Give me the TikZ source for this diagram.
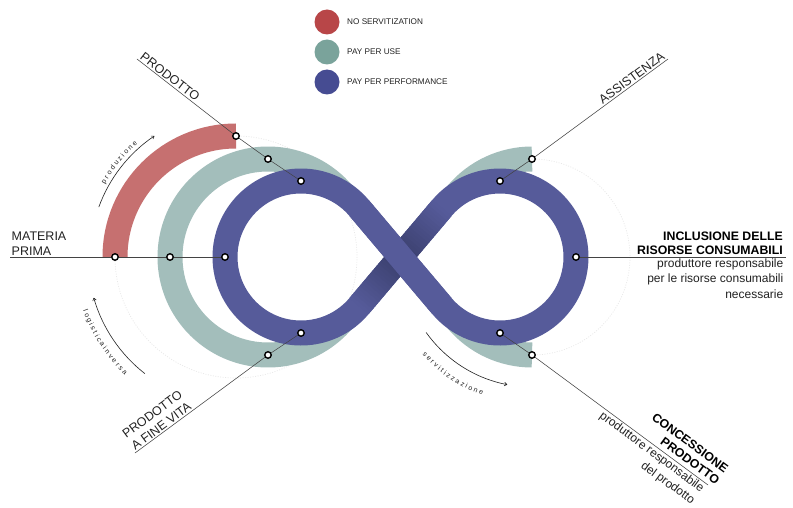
\documentclass[tikz,border=0pt]{standalone}
\usepackage{fontspec}
\setmainfont{Liberation Sans}
\usetikzlibrary{decorations.text,arrows.meta,calc}
\definecolor{redarc}{RGB}{198,112,112}
\definecolor{tealarc}{RGB}{163,190,187}
\definecolor{bluearc}{RGB}{86,91,154}
\definecolor{bluedark}{RGB}{50,55,96}
\definecolor{legred}{RGB}{184,70,72}
\definecolor{legteal}{RGB}{122,163,155}
\definecolor{legblue}{RGB}{70,76,146}
\definecolor{ink}{RGB}{34,34,34}
\pgfdeclarelayer{back}\pgfdeclarelayer{mid}
\pgfsetlayers{back,mid,main}
\begin{document}
\begin{tikzpicture}[x=1pt,y=1pt,
 band/.style={line width=25pt,line join=round},
 dotn/.style={circle,draw=black,fill=white,line width=1.4pt,inner sep=0pt,minimum size=6.5pt},
 leader/.style={draw=ink!85,line width=0.55pt},
 faint/.style={draw=black!9,line width=0.7pt,dash pattern=on 1pt off 1.5pt},
 lbl/.style={font=\fontsize{12.5}{15}\selectfont,text=ink,inner sep=1.5pt},
 boldlbl/.style={font=\bfseries\fontsize{12.3}{14.5}\selectfont,text=black,inner sep=2pt},
 sublbl/.style={font=\fontsize{12}{15.5}\selectfont,text=ink,inner sep=1.5pt},
 legdot/.style={circle,minimum size=25pt,inner sep=0pt},
 legtxt/.style={font=\fontsize{8.2}{9}\selectfont,text=ink,anchor=west,inner sep=0pt},
 flow/.style={draw=ink,line width=0.6pt,-{To[length=3pt,width=4pt]}},
]
\useasboundingbox (0,0) rectangle (793,507);

\begin{pgfonlayer}{back}
\fill[white] (0,0) rectangle (793,507);
% faint dotted continuations
\draw[faint] (236,250) ++(90:121) arc[start angle=90,end angle=-180,radius=121];
\draw[faint] (532,250) ++(-90:98) arc[start angle=-90,end angle=90,radius=98];
% no servitization arc
\draw[band,redarc] (236,250) ++(180:121) arc[start angle=180,end angle=90,radius=121];
% pay per use arcs
\draw[band,tealarc] (268,250) ++(40:98) arc[start angle=40,end angle=320,radius=98];
\draw[band,tealarc] (532,250) ++(140:98) arc[start angle=140,end angle=90,radius=98];
\draw[band,tealarc] (532,250) ++(220:98) arc[start angle=220,end angle=270,radius=98];
% pay per performance figure eight
\coordinate (P1) at (359.05,299.06);
\coordinate (P2) at (359.05,200.94);
\coordinate (P3) at (441.95,200.94);
\coordinate (P4) at (441.95,299.06);
\draw[band,bluearc] (225,250) arc[start angle=180,end angle=40.2,radius=76]
   -- (P3) arc[start angle=220.2,end angle=499.8,radius=76]
   -- (P2) arc[start angle=-40.2,end angle=-180,radius=76] -- cycle;
\foreach \i in {0,...,39}{
  \pgfmathsetmacro\sa{\i/40}
  \pgfmathsetmacro\sb{min(1,(\i+1.3)/40)}
  \pgfmathsetmacro\shd{80*(1-abs(2*(\i+0.5)/40-1))}
  \draw[line width=25pt,color=bluedark!\shd!bluearc] ($(P2)!\sa!(P4)$) -- ($(P2)!\sb!(P4)$);
}
\draw[band,bluearc] (P1) -- (P3);
\end{pgfonlayer}

% dots
\node[dotn] (rT) at (236,371) {};
\node[dotn] (tT) at (268,348) {};
\node[dotn] (bT) at (301,326) {};
\node[dotn] (rL) at (115,250) {};
\node[dotn] (tL) at (170,250) {};
\node[dotn] (bL) at (225,250) {};
\node[dotn] (tB) at (268,152) {};
\node[dotn] (bB) at (301,174) {};
\node[dotn] (bTR) at (500,326) {};
\node[dotn] (tTR) at (532,348) {};
\node[dotn] (bR) at (576,250) {};
\node[dotn] (bBR) at (500,174) {};
\node[dotn] (tBR) at (532,152) {};

\coordinate (eProd) at (137,448);
\coordinate (eAss) at (668,448);
\coordinate (eMat) at (10,250);
\coordinate (eInc) at (786,250);
\coordinate (eFine) at (135,54);
\coordinate (eConc) at (708,22);

\begin{pgfonlayer}{mid}
\draw[leader] (eProd) -- (rT) -- (tT) -- (bT);
\draw[leader] (bTR) -- (tTR) -- (eAss);
\draw[leader] (eMat) -- (rL) -- (tL) -- (bL);
\draw[leader] (bR) -- (eInc);
\draw[leader] (bB) -- (tB) -- (eFine);
\draw[leader] (bBR) -- (tBR) -- (eConc);
\end{pgfonlayer}

% labels
\node[lbl,anchor=south west,rotate=-37.5] (lProd) at (eProd) {PRODOTTO};
\node[lbl,anchor=south east,rotate=36.3] (lAss) at (eAss) {ASSISTENZA};
\node[lbl,anchor=south west,align=left] (lMat) at (eMat) {MATERIA\\PRIMA};
\node[boldlbl,anchor=south east,align=right] (lInc) at ([xshift=-1pt]eInc) {INCLUSIONE DELLE\\RISORSE CONSUMABILI};
\node[sublbl,anchor=north east,align=right] (lIncSub) at ([xshift=-1pt]eInc) {produttore responsabile\\per le risorse consumabili\\necessarie};
\node[lbl,anchor=south west,rotate=36.4,align=left] (lFine) at (eFine) {PRODOTTO\\A FINE VITA};
\node[boldlbl,anchor=south east,rotate=-36.4,align=right] (lConc) at ([xshift=8pt,yshift=-3pt]eConc) {CONCESSIONE\\PRODOTTO};
\node[sublbl,anchor=north east,rotate=-36.4,align=right] (lConcSub) at (eConc) {produttore responsabile\\del prodotto};

% legend
\node[legdot,fill=legred] (gR) at (327,485) {};
\node[legdot,fill=legteal] (gT) at (327,455) {};
\node[legdot,fill=legblue] (gB) at (327,425) {};
\node[legtxt] (gRt) at (347,485) {NO SERVITIZATION};
\node[legtxt] (gTt) at (347,455) {PAY PER USE};
\node[legtxt] (gBt) at (347,425) {PAY PER PERFORMANCE};

% flow arrows
\draw[flow] (236,250) ++(160:146) arc[start angle=160,end angle=124,radius=146];
\path[decorate,decoration={text along path,text align=center,
  text={|\color{ink}\fontsize{7}{7}\selectfont|p r o d u z i o n e}}]
  (236,250) ++(163:150) arc[start angle=163,end angle=119,radius=150];
\draw[flow] (236,250) ++(232:148) arc[start angle=232,end angle=196,radius=148];
\path[decorate,decoration={text along path,text align=center,
  text={|\color{ink}\fontsize{7}{7}\selectfont|l o g i s t i c a i n v e r s a}}]
  (236,250) ++(190:162) arc[start angle=190,end angle=236,radius=162];
\draw[flow] (532,250) ++(215.5:130) arc[start angle=215.5,end angle=259,radius=130];
\path[decorate,decoration={text along path,text align=center,
  text={|\color{ink}\fontsize{7}{7}\selectfont|s e r v i t i z z a z i o n e}}]
  (532,250) ++(214:147) arc[start angle=214,end angle=258,radius=147];
\end{tikzpicture}
\end{document}
